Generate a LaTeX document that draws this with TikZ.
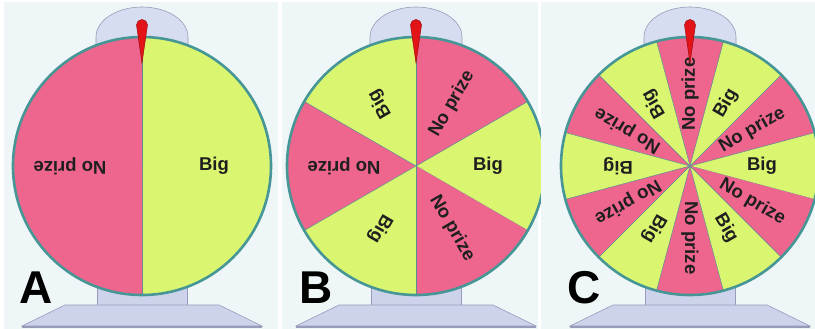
\documentclass[tikz,border=0pt]{standalone}
\usepackage{fontspec}
\setmainfont{Liberation Sans}
\usepackage{tikz}
\usetikzlibrary{calc}

\definecolor{panelbg}{RGB}{238,246,248}
\definecolor{prizepink}{RGB}{238,102,142}
\definecolor{biggreen}{RGB}{218,245,112}
\definecolor{rimline}{RGB}{70,150,150}
\definecolor{standfill}{RGB}{206,211,236}
\definecolor{domefill}{RGB}{214,221,240}
\definecolor{standline}{RGB}{150,156,186}
\definecolor{needle}{RGB}{226,20,24}

\begin{document}
\begin{tikzpicture}[x = 1pt, y = 1pt,
  wedge/.style = {draw = rimline!70!gray, line width = 0.5pt},
  rim/.style = {draw = rimline, line width = 2.6pt},
  stand/.style = {fill = standfill, draw = standline, line width = 0.6pt},
  sectortext/.style = {font = \bfseries\fontsize{18.5}{20}\selectfont, text = black!88, inner sep = 0pt},
  tag/.style = {font = \bfseries\fontsize{46}{46}\selectfont, inner sep = 0pt}]
\useasboundingbox (0, 0) rectangle (815, 329);
\foreach \lft/\rgt/\cx/\n/\tg/\tx in {4/278/142/2/A/36, 282/538/416/6/B/316, 541/815/690/12/C/584}{
\fill[panelbg] (\lft, 0) rectangle (\rgt, 327);
% stand behind the wheel
\draw[stand, fill = domefill] (\cx - 46, 270) -- (\cx - 46, 292) arc[start angle = 180, end angle = 0, x radius = 46, y radius = 30] -- (\cx + 46, 270);
\draw[stand] (\cx - 45, 90) rectangle (\cx + 45, 24);
\draw[stand] (\cx - 120, 3) -- (\cx - 77, 24) -- (\cx + 77, 24) -- (\cx + 120, 3) -- cycle;
\draw[standline, line width = 1.6pt] (\cx - 120, 2) -- (\cx + 120, 2);
% wheel
\coordinate (hub\tg) at (\cx, 163);
\pgfmathsetmacro{\w}{360/\n}
\pgfmathtruncatemacro{\last}{\n - 1}
\foreach \k in {0, ..., \last}{
\pgfmathsetmacro{\mid}{\k*\w}
\ifodd\k \def\col{prizepink}\def\txt{No prize}\else \def\col{biggreen}\def\txt{Big}\fi
\fill[\col] (hub\tg) -- ++(\mid - \w/2:129) arc[start angle = \mid - \w/2, delta angle = \w, radius = 129] -- cycle;
\draw[wedge] (hub\tg) -- ++(\mid - \w/2:129);
\path (hub\tg) ++(\mid:72) node[sectortext, rotate = \mid] (txt\tg\k) {\txt};}
\draw[rim] (hub\tg) circle[radius = 129];
% pointer
\draw[fill = needle, draw = needle!70!black, line width = 0.5pt] (\cx - 5.5, 304) -- (\cx, 266) -- (\cx + 5.5, 304) arc[start angle = 0, end angle = 180, radius = 5.5] -- cycle;
\node[tag] (tag\tg) at (\tx, 41) {\tg};
}
\end{tikzpicture}
\end{document}
